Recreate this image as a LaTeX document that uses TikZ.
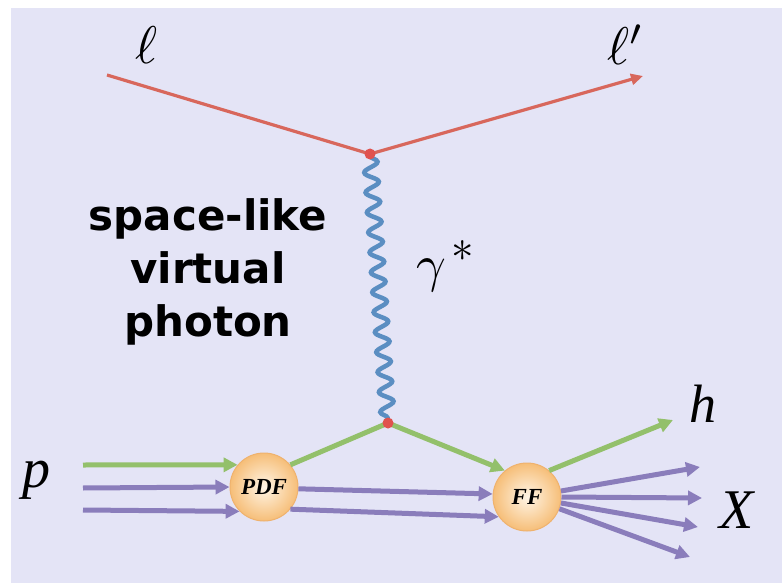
\documentclass[tikz,border=0pt]{standalone}
\usepackage{fontspec}
\newfontfamily\dvs{DejaVu Sans}
\newfontfamily\lser{Liberation Serif}
\usetikzlibrary{arrows.meta,decorations.pathmorphing}
\definecolor{bgl}{HTML}{E4E4F6}
\definecolor{lepred}{HTML}{D8675C}
\definecolor{vtxred}{HTML}{E0524E}
\definecolor{phblue}{HTML}{5B8EC2}
\definecolor{qgreen}{HTML}{93C06B}
\definecolor{qpurple}{HTML}{8A7DBB}
\definecolor{blobin}{HTML}{FFF5E6}
\definecolor{blobout}{HTML}{F6BE78}
\definecolor{blobedge}{HTML}{EFB26E}
\tikzset{
  lep/.style={draw=lepred, line width=3.2pt},
  glu/.style={draw=qgreen, line width=5pt},
  qrk/.style={draw=qpurple, line width=5pt},
  bigtip/.style={-{Triangle[length=14pt,width=14pt]}},
  smalltip/.style={-{Triangle[length=12pt,width=11pt]}},
  blob/.style={circle, minimum size=68pt, inner sep=0pt, draw=blobedge, line width=1pt,
    inner color=blobin, outer color=blobout, font=\lser\bfseries\itshape\fontsize{23}{23}\selectfont},
  vtx/.style={circle, fill=vtxred, minimum size=11pt, inner sep=0pt},
  photon/.style={draw=phblue, line width=4.5pt, decorate,
    decoration={snake, amplitude=7pt, segment length=20pt, pre length=2pt, post length=2pt}},
  mlabel/.style={inner sep=0pt, text=black},
}
\begin{document}
\begin{tikzpicture}[x=1pt,y=-1pt]
\useasboundingbox (0,0) rectangle (782,583);
\fill[white] (0,0) rectangle (782,583);
\fill[bgl] (11,8) rectangle (782,583);

% vertices and endpoints
\coordinate (lin) at (107,75);
\coordinate (v1) at (370,154);
\coordinate (lout) at (643,76);
\coordinate (v2) at (388,423);
\coordinate (g0) at (83,465);
\coordinate (q1) at (83,488);
\coordinate (q2) at (83,510);
\coordinate (hend) at (673,420);
\coordinate (x1) at (700,467);
\coordinate (x2) at (702,498);
\coordinate (x3) at (698,527);
\coordinate (x4) at (690,557);

\node[blob] (PDF) at (264,487) {PDF};
\node[blob] (FF) at (527,497) {FF};

% lepton lines
\draw[lep] (lin) -- (v1);
\draw[lep, smalltip] (v1) -- (lout);

% photon
\draw[photon] (v1) -- (v2);

% incoming proton partons
\draw[glu, bigtip] (g0) -- (PDF.140);
\draw[qrk, bigtip] (q1) -- (PDF.180);
\draw[qrk, bigtip] (q2) -- (PDF.-135);

% struck quark
\draw[glu] (PDF.40) -- (v2);
\draw[glu, bigtip] (v2) -- (FF.130);

% spectators
\draw[qrk, bigtip] (PDF.-3) -- (FF.175);
\draw[qrk, bigtip] (PDF.-40) -- (FF.-145);

% outgoing
\draw[glu, bigtip] (FF.50) -- (hend);
\draw[qrk, bigtip] (FF.10) -- (x1);
\draw[qrk, bigtip] (FF.0) -- (x2);
\draw[qrk, bigtip] (FF.-10) -- (x3);
\draw[qrk, bigtip] (FF.-20) -- (x4);

% vertex dots
\node[vtx] (dot1) at (v1) {};
\node[vtx] (dot2) at (v2) {};

% labels
\node[mlabel, scale=5.3] (ell) at (147,45) {$\ell$};
\node[mlabel, scale=5.3] (ellp) at (626,45) {$\ell'$};
\node[mlabel] (gam) at (445,266) {\scalebox{5.2}{$\gamma$}\hspace{5pt}\raisebox{20pt}{\scalebox{4.5}{$*$}}};
\node[mlabel, font=\lser\itshape\fontsize{56}{56}\selectfont] (plab) at (36,480) {p};
\node[mlabel, font=\lser\itshape\fontsize{54}{54}\selectfont] (hlab) at (703,404) {h};
\node[mlabel, font=\lser\itshape\fontsize{56}{56}\selectfont] (xlab) at (737,510) {X};
\node[align=center, inner sep=0pt, font=\dvs\bfseries\fontsize{42}{53}\selectfont] (desc) at (208,272)
  {space-like\\virtual\\photon};
\end{tikzpicture}
\end{document}
